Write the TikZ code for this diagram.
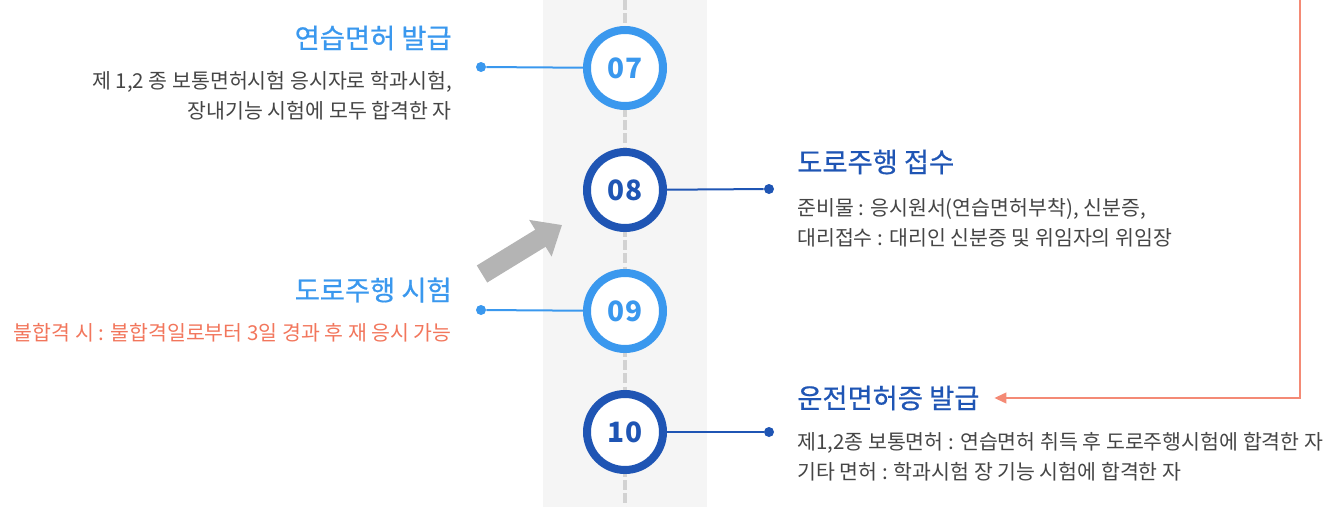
\documentclass[tikz,border=0pt]{standalone}
\usepackage{fontspec}
\setmainfont{Noto Sans CJK KR}
\newfontfamily\titlefont{Noto Sans CJK KR}[FakeBold=0.6]
\usepackage{tikz}
\usetikzlibrary{arrows.meta}

\definecolor{lightblue}{HTML}{3A98EE}
\definecolor{darkblue}{HTML}{1F55B4}
\definecolor{salmon}{HTML}{F2765C}
\definecolor{bodygray}{HTML}{454545}
\definecolor{colgray}{HTML}{F5F5F5}
\definecolor{dashgray}{HTML}{D2D2D2}
\definecolor{arrowgray}{HTML}{B4B4B4}

\tikzset{
  stepring/.style={circle, draw=#1, line width=6pt, fill=white, minimum size=57pt,
    inner sep=0pt, text=#1, font=\fontsize{21pt}{21pt}\selectfont\bfseries},
  stepdot/.style={circle, fill=#1, inner sep=0pt, minimum size=7.5pt},
  title/.style={text=#1, inner sep=0pt, font=\titlefont\fontsize{20.5pt}{22pt}\selectfont},
  body/.style={text=bodygray, inner sep=0pt, font=\fontsize{15.4pt}{22.5pt}\selectfont},
}

\begin{document}
\begin{tikzpicture}[x=0.75pt,y=-0.75pt]
\useasboundingbox (0,0) rectangle (1332,507);

% middle column
\fill[colgray] (543,0) rectangle (707,507);
\coordinate (colT) at (625,0);
\coordinate (colB) at (625,507);
\draw[dashgray, line width=3pt, dash pattern=on 7.5pt off 2.5pt] (colT) -- (colB);

% steps
\node[stepring=lightblue] (S07) at (625,68) {07};
\node[stepring=darkblue] (S08) at (625,190) {08};
\node[stepring=lightblue] (S09) at (625,311) {09};
\node[stepring=darkblue] (S10) at (625,432) {10};

\node[stepdot=lightblue] (D07) at (481,67) {};
\node[stepdot=darkblue] (D08) at (769,189) {};
\node[stepdot=lightblue] (D09) at (481,310) {};
\node[stepdot=darkblue] (D10) at (769,432) {};

\draw[lightblue, line width=1.5pt] (D07) -- (S07);
\draw[darkblue, line width=1.5pt] (S08) -- (D08);
\draw[lightblue, line width=1.5pt] (D09) -- (S09);
\draw[darkblue, line width=1.5pt] (S10) -- (D10);

% texts
\node[title=lightblue, anchor=east] (T07) at (452,38) {연습면허 발급};
\node[body, anchor=east, align=right] (B07) at (452,96)
  {제 1,2 종 보통면허시험 응시자로 학과시험,\\장내기능 시험에 모두 합격한 자};

\node[title=darkblue, anchor=west] (T08) at (797,162) {도로주행 접수};
\node[body, anchor=west, align=left] (B08) at (797,223)
  {준비물 : 응시원서(연습면허부착), 신분증,\\대리접수 : 대리인 신분증 및 위임자의 위임장};

\node[title=lightblue, anchor=east] (T09) at (452,290) {도로주행 시험};
\node[body, text=salmon, anchor=east] (B09) at (452,333)
  {불합격 시 : 불합격일로부터 3일 경과 후 재 응시 가능};

\node[title=darkblue, anchor=west] (T10) at (797,398) {운전면허증 발급};
\node[body, anchor=west, align=left] (B10) at (797,457)
  {제1,2종 보통면허 : 연습면허 취득 후 도로주행시험에 합격한 자\\기타 면허 : 학과시험 장 기능 시험에 합격한 자};

% arrows
\coordinate (retTop) at (1300,0);
\draw[salmon!85, line width=1.5pt, -{Triangle[length=9pt, width=8pt]}, shorten >=11pt]
  (retTop) |- (T10);

\coordinate (gTail) at (482,274);
\coordinate (gTip) at (562,225);
\draw[arrowgray, line width=15pt, -{Triangle[length=19pt, width=31pt]}] (gTail) -- (gTip);
\end{tikzpicture}
\end{document}
